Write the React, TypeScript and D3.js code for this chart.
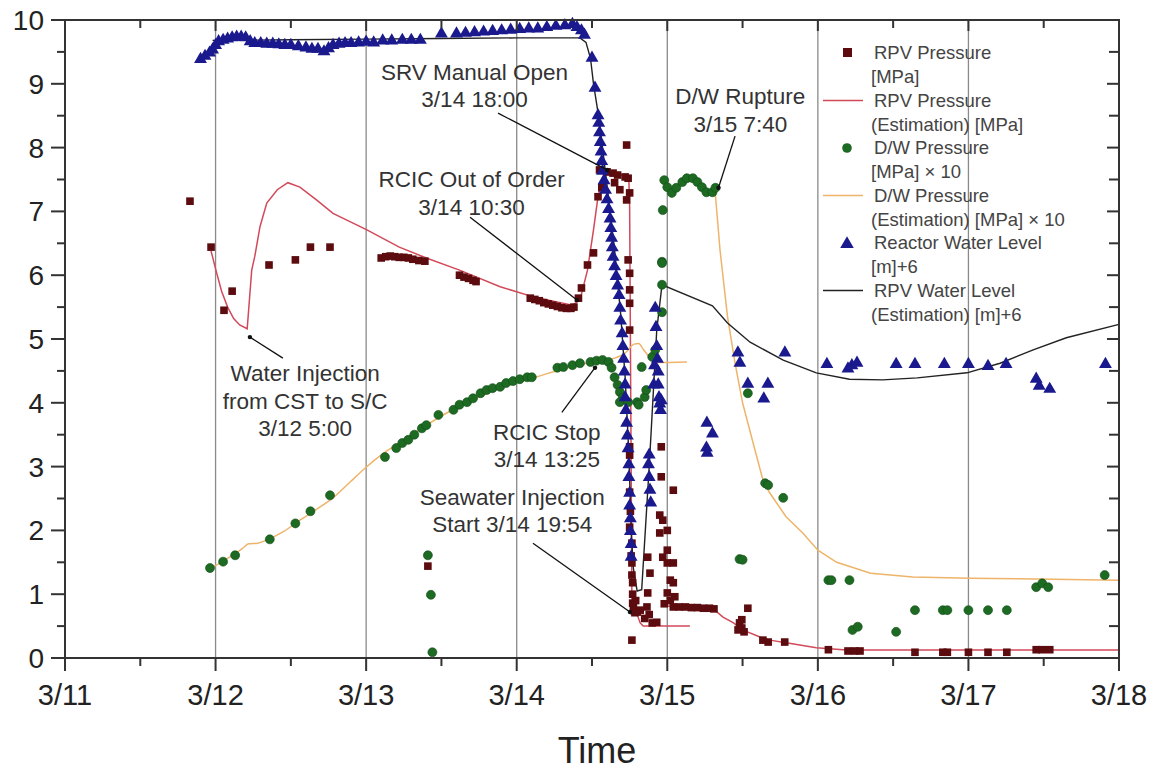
import React from 'react';
import * as d3 from 'd3';

// time in days since 3/11 00:00
const xTickLabels = ['3/11', '3/12', '3/13', '3/14', '3/15', '3/16', '3/17', '3/18'];
const yTickValues = [0, 1, 2, 3, 4, 5, 6, 7, 8, 9, 10];

// RPV Pressure [MPa] (squares)
const rpvPressure: [number, number][] = [
  [0.83, 7.16], [0.97, 6.44], [1.056, 5.45], [1.11, 5.75], [1.355, 6.16], [1.53, 6.24], [1.63, 6.44], [1.76, 6.44],
  [2.10, 6.27], [2.13, 6.29], [2.16, 6.30], [2.19, 6.29], [2.22, 6.28], [2.25, 6.28], [2.28, 6.27], [2.31, 6.25], [2.35, 6.23], [2.39, 6.22],
  [2.41, 1.44],
  [2.62, 6.0], [2.65, 5.97], [2.68, 5.95], [2.71, 5.92], [2.73, 5.90],
  [3.09, 5.64], [3.12, 5.62], [3.15, 5.60], [3.18, 5.57], [3.21, 5.55], [3.24, 5.53], [3.27, 5.51], [3.30, 5.49], [3.33, 5.48], [3.36, 5.48], [3.38, 5.50],
  [3.41, 5.64], [3.43, 5.80], [3.47, 6.16], [3.51, 6.35], [3.54, 7.23], [3.565, 7.37], [3.55, 7.65], [3.60, 7.62], [3.64, 7.60], [3.67, 7.57],
  [3.72, 7.54], [3.74, 7.52], [3.73, 8.04], [3.65, 7.45], [3.685, 7.34], [3.73, 7.18], [3.75, 7.29], [3.74, 6.24], [3.75, 6.03], [3.75, 5.77],
  [3.75, 5.56], [3.75, 5.14], [3.75, 3.31], [3.75, 3.18], [3.75, 2.05], [3.765, 1.80], [3.765, 1.49], [3.77, 1.18], [3.77, 0.86], [3.785, 0.71],
  [3.75, 2.6], [3.755, 2.3], [3.76, 1.6], [3.765, 1.3], [3.77, 1.0], [3.775, 0.8], [3.78, 0.74], [3.79, 0.9], [3.80, 0.72],
  [3.82, 0.75], [3.865, 0.80], [3.87, 1.02], [3.885, 1.33], [3.87, 1.58], [3.90, 0.55], [3.93, 0.56], [3.765, 0.28], [3.85, 0.62], [3.88, 0.68],
  [3.95, 2.24], [3.96, 3.31], [3.96, 2.84], [4.04, 2.63], [3.97, 2.16], [4.0, 2.0], [3.95, 1.96], [4.0, 1.69], [3.97, 1.58], [4.0, 1.49],
  [4.04, 1.49], [4.02, 1.22], [4.04, 1.18], [4.0, 1.02], [4.05, 0.96], [4.04, 0.80], [3.98, 0.85], [4.02, 0.9],
  [4.08, 0.80], [4.12, 0.80], [4.16, 0.79], [4.20, 0.79], [4.24, 0.78], [4.28, 0.78], [4.31, 0.77],
  [4.535, 0.78], [4.495, 0.60], [4.48, 0.55], [4.495, 0.47], [4.51, 0.41], [4.47, 0.44], [4.635, 0.28], [4.67, 0.25],
  [4.78, 0.25], [5.07, 0.13], [5.20, 0.11], [5.245, 0.11], [5.28, 0.11], [5.645, 0.09], [5.83, 0.09], [5.86, 0.09],
  [6.0, 0.09], [6.13, 0.09], [6.255, 0.09], [6.45, 0.13], [6.49, 0.13], [6.54, 0.13],
];

// RPV Pressure (Estimation) [MPa]
const rpvEstA: [number, number][] = [
  [0.97, 6.38], [1.0, 6.1], [1.04, 5.75], [1.08, 5.5], [1.12, 5.32], [1.16, 5.22], [1.21, 5.16],
  [1.24, 6.08], [1.26, 6.29], [1.295, 6.76], [1.34, 7.13], [1.41, 7.34], [1.48, 7.45], [1.56, 7.38], [1.67, 7.18],
  [1.78, 6.97], [2.005, 6.71], [2.22, 6.44], [2.40, 6.27], [2.62, 6.08], [2.89, 5.82], [3.11, 5.66], [3.37, 5.53],
  [3.42, 5.61], [3.47, 6.08], [3.51, 6.71], [3.54, 7.23], [3.565, 7.45], [3.585, 7.57], [3.73, 7.57], [3.745, 7.49],
  [3.75, 7.07], [3.765, 0.91], [3.82, 0.55], [3.84, 0.50], [4.15, 0.50],
];
const rpvEstB: [number, number][] = [
  [3.97, 0.82], [4.10, 0.80], [4.30, 0.78], [4.37, 0.64], [4.44, 0.55], [4.50, 0.44], [4.615, 0.33], [4.68, 0.28],
  [4.81, 0.23], [4.99, 0.16], [5.19, 0.125], [7.0, 0.125],
];

// D/W Pressure [MPa] x 10 (circles)
const dwPressure: [number, number][] = [
  [0.963, 1.41], [1.05, 1.51], [1.13, 1.61], [1.36, 1.86], [1.53, 2.11], [1.63, 2.30], [1.76, 2.55],
  [2.125, 3.15], [2.20, 3.29], [2.24, 3.37], [2.28, 3.42], [2.32, 3.50], [2.37, 3.60], [2.40, 3.65], [2.41, 1.61], [2.43, 0.99], [2.44, 0.09],
  [2.48, 3.81], [2.58, 3.89], [2.62, 3.97], [2.67, 4.01], [2.71, 4.07], [2.76, 4.15], [2.80, 4.20], [2.84, 4.23], [2.89, 4.25],
  [2.93, 4.31], [2.975, 4.34], [3.02, 4.37], [3.07, 4.40], [3.10, 4.40],
  [3.27, 4.55], [3.31, 4.56], [3.37, 4.59], [3.42, 4.62], [3.49, 4.64], [3.53, 4.66], [3.57, 4.67], [3.61, 4.64],
  [3.63, 4.55], [3.65, 4.40], [3.67, 4.28], [3.685, 4.17], [3.705, 4.08], [3.685, 4.01], [3.74, 4.01], [3.80, 4.01],
  [3.81, 3.97], [3.83, 4.56], [3.85, 4.09], [3.86, 4.2], [3.90, 4.72], [3.92, 4.83], [3.965, 6.21], [3.965, 5.42], [3.965, 5.85],
  [3.97, 7.02], [3.965, 6.19],
  [3.98, 7.49], [4.0, 7.38], [4.03, 7.29], [4.06, 7.37], [4.10, 7.46], [4.13, 7.52], [4.17, 7.52], [4.20, 7.46],
  [4.23, 7.38], [4.26, 7.30], [4.30, 7.30], [4.32, 7.37],
  [4.48, 1.55], [4.50, 1.54], [4.535, 4.15], [4.65, 2.74], [4.67, 2.71], [4.77, 2.51],
  [5.07, 1.22], [5.09, 1.22], [5.21, 1.22], [5.23, 0.44], [5.265, 0.49], [5.52, 0.41], [5.645, 0.75], [5.83, 0.75],
  [5.86, 0.75], [6.0, 0.75], [6.13, 0.75], [6.255, 0.75], [6.45, 1.11], [6.49, 1.17], [6.53, 1.11], [6.905, 1.30],
];

// D/W Pressure (Estimation) [MPa] x 10
const dwEstA: [number, number][] = [
  [0.97, 1.41], [1.05, 1.52], [1.12, 1.62], [1.18, 1.72], [1.22, 1.79], [1.28, 1.80], [1.34, 1.85], [1.45, 1.98],
  [1.56, 2.16], [1.67, 2.33], [1.78, 2.51], [1.89, 2.75], [2.0, 2.99], [2.11, 3.2], [2.22, 3.37], [2.38, 3.62],
  [2.535, 3.84], [2.7, 4.04], [2.89, 4.23], [3.11, 4.39], [3.4, 4.59], [3.58, 4.67], [3.65, 4.70], [3.72, 4.78],
  [3.78, 4.92], [3.81, 4.93], [3.84, 4.84], [3.87, 4.75], [3.93, 4.63], [4.13, 4.64],
];
const dwEstB: [number, number][] = [
  [3.98, 7.49], [4.03, 7.30], [4.08, 7.40], [4.13, 7.52], [4.18, 7.50], [4.23, 7.36], [4.28, 7.28], [4.32, 7.25],
  [4.35, 6.40], [4.40, 5.35], [4.45, 4.62], [4.50, 4.0], [4.57, 3.37], [4.635, 2.79], [4.68, 2.59], [4.79, 2.21],
  [4.90, 1.96], [5.0, 1.69], [5.125, 1.50], [5.35, 1.33], [5.63, 1.27], [6.01, 1.25], [6.45, 1.24], [7.0, 1.22],
];

// Reactor Water Level [m]+6 (triangles)
const waterLevel: [number, number][] = [
  [0.90, 9.40], [0.93, 9.45], [0.96, 9.50], [0.98, 9.55], [1.00, 9.62], [1.02, 9.68], [1.05, 9.70], [1.08, 9.72],
  [1.11, 9.74], [1.14, 9.75], [1.17, 9.75], [1.20, 9.74], [1.23, 9.68], [1.26, 9.65], [1.30, 9.65], [1.34, 9.64],
  [1.38, 9.64], [1.42, 9.63], [1.46, 9.62], [1.50, 9.62], [1.55, 9.60], [1.60, 9.58], [1.64, 9.56], [1.68, 9.56],
  [1.72, 9.52], [1.75, 9.57], [1.78, 9.62], [1.82, 9.64], [1.86, 9.65], [1.90, 9.65], [1.95, 9.66], [2.00, 9.67],
  [2.05, 9.66], [2.11, 9.69], [2.17, 9.69], [2.24, 9.70], [2.30, 9.70], [2.36, 9.70], [2.50, 9.80], [2.60, 9.80],
  [2.66, 9.81], [2.72, 9.82], [2.78, 9.83], [2.84, 9.84], [2.90, 9.85], [2.96, 9.86], [3.02, 9.87], [3.08, 9.88],
  [3.14, 9.88], [3.20, 9.90], [3.26, 9.92], [3.32, 9.93], [3.37, 9.95], [3.40, 9.90], [3.43, 9.85], [3.45, 9.78],
  [3.50, 9.42], [3.52, 8.95], [3.54, 8.52], [3.545, 8.4], [3.55, 8.25], [3.555, 8.1], [3.56, 7.95], [3.565, 7.8],
  [3.57, 7.65], [3.58, 7.5], [3.59, 7.35], [3.60, 7.2], [3.61, 7.05], [3.62, 6.9], [3.625, 6.75], [3.63, 6.6],
  [3.635, 6.45], [3.64, 6.3], [3.65, 6.15], [3.66, 6.0], [3.67, 5.85], [3.68, 5.7], [3.685, 5.5], [3.69, 5.3],
  [3.70, 5.1], [3.705, 4.9], [3.71, 4.7], [3.715, 4.5], [3.72, 4.3], [3.72, 4.1], [3.725, 3.9], [3.73, 3.7],
  [3.735, 3.5], [3.74, 3.3], [3.745, 3.05], [3.745, 2.85], [3.75, 2.6], [3.75, 2.4], [3.755, 2.2], [3.755, 2.0],
  [3.76, 1.8], [3.76, 1.6],
  [3.875, 3.05], [3.88, 2.85], [3.885, 2.65], [3.89, 2.45], [3.88, 3.2],
  [3.92, 5.5], [3.925, 5.2], [3.93, 4.9], [3.935, 4.7], [3.94, 4.5], [3.94, 4.3], [3.945, 4.1], [3.95, 4.0],
  [3.955, 3.9], [3.96, 4.05], [3.91, 4.3], [3.915, 4.6],
  [4.263, 3.70], [4.30, 3.53], [4.26, 3.31], [4.265, 3.23],
  [4.469, 4.80], [4.482, 4.64], [4.535, 4.31], [4.668, 4.31], [4.641, 4.08], [4.781, 4.80],
  [5.06, 4.62], [5.20, 4.55], [5.226, 4.60], [5.26, 4.64], [5.52, 4.62], [5.645, 4.62], [5.84, 4.62], [6.0, 4.62],
  [6.13, 4.59], [6.25, 4.62], [6.45, 4.39], [6.47, 4.28], [6.54, 4.23], [6.91, 4.62],
];

// RPV Water Level (Estimation) [m]+6
const wlEst: [number, number][] = [
  [0.98, 9.68], [1.5, 9.69], [2.0, 9.70], [2.5, 9.71], [3.0, 9.72], [3.42, 9.72], [3.46, 9.65], [3.49, 9.4],
  [3.51, 9.0], [3.55, 8.4], [3.6, 7.4], [3.65, 6.4], [3.69, 5.4], [3.72, 4.4], [3.745, 3.2], [3.76, 2.0],
  [3.775, 1.4], [3.80, 1.05], [3.83, 1.07], [3.88, 3.0], [3.93, 5.14], [3.965, 5.85], [4.30, 5.52], [4.40, 5.25],
  [4.55, 4.95], [4.77, 4.67], [4.99, 4.47], [5.21, 4.37], [5.43, 4.36], [5.66, 4.39], [5.99, 4.47], [6.21, 4.62],
  [6.43, 4.83], [6.65, 5.02], [7.0, 5.23],
];

// annotations: text lines, text anchor position (day, value), leader from -> to (day, value)
const annotations = [
  { lines: ['SRV Manual Open', '3/14 18:00'], at: [2.72, 9.06], from: [2.876, 8.54], to: [3.60, 7.65] },
  { lines: ['RCIC Out of Order', '3/14 10:30'], at: [2.70, 7.38], from: [2.69, 6.91], to: [3.40, 5.61] },
  { lines: ['D/W Rupture', '3/15 7:40'], at: [4.485, 8.68], from: [4.45, 8.18], to: [4.34, 7.37] },
  { lines: ['Water Injection', 'from CST to S/C', '3/12 5:00'], at: [1.595, 4.34], from: [1.447, 4.70], to: [1.228, 5.03] },
  { lines: ['RCIC Stop', '3/14 13:25'], at: [3.20, 3.42], from: [3.30, 3.85], to: [3.52, 4.55] },
  { lines: ['Seawater Injection', 'Start 3/14 19:54'], at: [2.97, 2.40], from: [3.108, 1.80], to: [3.752, 0.72] },
];

const legendItems = [
  { kind: 'square', color: '#5c0b0e', lines: ['RPV Pressure', '[MPa]'] },
  { kind: 'line', color: '#d2495a', lines: ['RPV Pressure', '(Estimation) [MPa]'] },
  { kind: 'circle', color: '#1d6a22', lines: ['D/W Pressure', '[MPa] \u00D7 10'] },
  { kind: 'line', color: '#eeb46a', lines: ['D/W Pressure', '(Estimation) [MPa] \u00D7 10'] },
  { kind: 'triangle', color: '#1a1a8e', lines: ['Reactor Water Level', '[m]+6'] },
  { kind: 'line', color: '#222222', lines: ['RPV Water Level', '(Estimation) [m]+6'] },
];

const W = 1161;
const H = 773;
const L = 65, R = 1119, T = 20, B = 658;
const FONT = '"Liberation Sans", Arial, Helvetica, sans-serif';

export default function App() {
  const x = d3.scaleLinear().domain([0, 7]).range([L, R]);
  const y = d3.scaleLinear().domain([0, 10]).range([B, T]);
  const line = d3.line<[number, number]>().x(d => x(d[0])).y(d => y(d[1])).curve(d3.curveMonotoneX);
  const straight = d3.line<[number, number]>().x(d => x(d[0])).y(d => y(d[1]));
  const tri = d3.symbol().type(d3.symbolTriangle).size(72)();

  const xMajor = d3.range(0, 8);
  const xMinor = d3.range(0.5, 7, 1);
  const yMinor = d3.range(0.5, 10, 1);

  return (
    <svg width={W} height={H} style={{ position: 'absolute', left: 0, top: 0, background: '#fff' }} fontFamily={FONT}>
      <rect x={0} y={0} width={W} height={H} fill="#fff" />
      {/* vertical grid */}
      {xMajor.slice(1, 7).map(d => (
        <line key={'g' + d} x1={x(d)} x2={x(d)} y1={T} y2={B} stroke="#8a8a8a" strokeWidth={1.3} />
      ))}

      {/* lines */}
      <path d={straight(rpvEstA) || ''} fill="none" stroke="#d2495a" strokeWidth={1.5} />
      <path d={straight(rpvEstB) || ''} fill="none" stroke="#d2495a" strokeWidth={1.5} />
      <path d={line(dwEstA) || ''} fill="none" stroke="#eeb46a" strokeWidth={1.5} />
      <path d={straight(dwEstB) || ''} fill="none" stroke="#eeb46a" strokeWidth={1.5} />
      <path d={straight(wlEst) || ''} fill="none" stroke="#222" strokeWidth={1.4} />

      {/* markers */}
      {rpvPressure.map((p, i) => (
        <rect key={'s' + i} x={x(p[0]) - 3.8} y={y(p[1]) - 3.8} width={7.6} height={7.6} fill="#5c0b0e" />
      ))}
      {dwPressure.map((p, i) => (
        <circle key={'c' + i} cx={x(p[0])} cy={y(p[1])} r={4.5} fill="#1d6a22" stroke="#134d17" strokeWidth={0.6} />
      ))}
      {waterLevel.map((p, i) => (
        <path key={'t' + i} d={tri || ''} transform={`translate(${x(p[0])},${y(p[1]) + 1})`} fill="#1a1a8e" />
      ))}

      {/* annotations */}
      {annotations.map((a, i) => (
        <g key={'a' + i}>
          <line x1={x(a.from[0])} y1={y(a.from[1])} x2={x(a.to[0])} y2={y(a.to[1])} stroke="#111" strokeWidth={1.3} />
          <circle cx={x(a.to[0])} cy={y(a.to[1])} r={2.2} fill="#111" />
          {a.lines.map((t, j) => (
            <text key={j} x={x(a.at[0])} y={y(a.at[1]) + j * 27.5} textAnchor="middle" fontSize={22.5} fill="#333">{t}</text>
          ))}
        </g>
      ))}

      {/* legend */}
      {legendItems.map((it, i) => {
        const y0 = 53 + i * 47.5;
        return (
          <g key={'l' + i}>
            {it.kind === 'square' && <rect x={843} y={y0 - 5} width={9} height={9} fill={it.color} />}
            {it.kind === 'circle' && <circle cx={847} cy={y0} r={4.8} fill={it.color} />}
            {it.kind === 'triangle' && <path d={d3.symbol().type(d3.symbolTriangle).size(80)() || ''} transform={`translate(847,${y0 + 1})`} fill={it.color} />}
            {it.kind === 'line' && <line x1={823} x2={863} y1={y0} y2={y0} stroke={it.color} strokeWidth={1.5} />}
            <text x={874} y={y0} dy="0.35em" fontSize={18.5} fill="#444">{it.lines[0]}</text>
            <text x={871} y={y0 + 24} dy="0.35em" fontSize={18.5} fill="#444">{it.lines[1]}</text>
          </g>
        );
      })}

      {/* frame */}
      <rect x={L} y={T} width={R - L} height={B - T} fill="none" stroke="#333" strokeWidth={2} />

      {/* y ticks left (outside) and right (inside) */}
      {yTickValues.map(v => (
        <g key={'y' + v}>
          <line x1={L - 14} x2={L} y1={y(v)} y2={y(v)} stroke="#333" strokeWidth={2} />
          <line x1={R - 12} x2={R} y1={y(v)} y2={y(v)} stroke="#333" strokeWidth={2} />
          <text x={44} y={y(v)} dy="0.36em" textAnchor="end" fontSize={28} fill="#222">{v}</text>
        </g>
      ))}
      {yMinor.map(v => (
        <g key={'ym' + v}>
          <line x1={L - 8} x2={L} y1={y(v)} y2={y(v)} stroke="#333" strokeWidth={2} />
          <line x1={R - 10} x2={R} y1={y(v)} y2={y(v)} stroke="#333" strokeWidth={2} />
        </g>
      ))}

      {/* x ticks bottom (outside), top (inside) */}
      {xMajor.map(d => (
        <g key={'x' + d}>
          <line x1={x(d)} x2={x(d)} y1={B} y2={B + 13} stroke="#333" strokeWidth={2} />
          <line x1={x(d)} x2={x(d)} y1={T} y2={T + 11} stroke="#333" strokeWidth={2} />
          <text x={x(d)} y={705} textAnchor="middle" fontSize={29} fill="#222">{xTickLabels[d]}</text>
        </g>
      ))}
      {xMinor.map(d => (
        <g key={'xm' + d}>
          <line x1={x(d)} x2={x(d)} y1={B} y2={B + 8} stroke="#333" strokeWidth={2} />
          <line x1={x(d)} x2={x(d)} y1={T} y2={T + 8} stroke="#333" strokeWidth={2} />
        </g>
      ))}

      <text x={597} y={763} textAnchor="middle" fontSize={36} fill="#222">Time</text>
    </svg>
  );
}
